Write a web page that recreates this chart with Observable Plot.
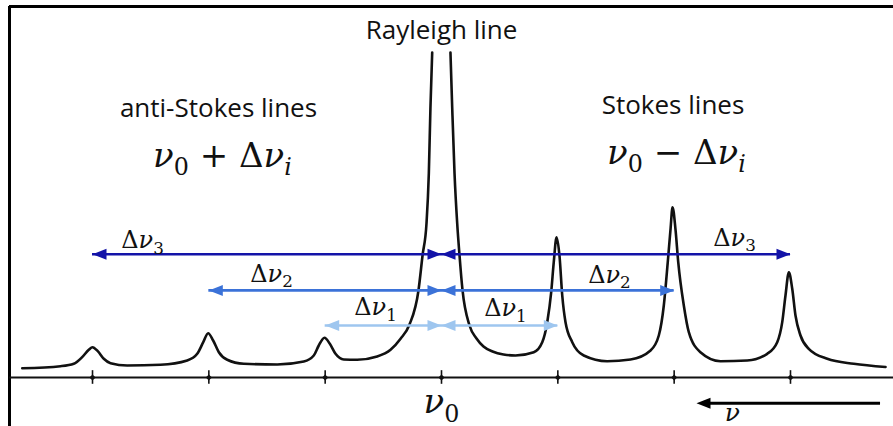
<!DOCTYPE html>
<html>
<head>
<meta charset="utf-8">
<script src="https://cdn.jsdelivr.net/npm/d3@7"></script>
<script src="https://cdn.jsdelivr.net/npm/@observablehq/plot@0.6"></script>
<style>
  html, body { margin: 0; padding: 0; background: #ffffff; }
  #chart svg { display: block; }
</style>
</head>
<body>
<div id="chart"></div>
<script>
// ---- Data ----
// Raman shift in units of the line spacing (anti-Stokes < 0 < Stokes), intensity in arbitrary units.
// null marks where the Rayleigh line leaves the frame (clipped).
const specShift = [
  -3.604, -3.275, -3.161, -3.089, -3.032, -3.000, -2.955, -2.903, -2.845, -2.702,
  -2.416, -2.186, -2.100, -2.048, -2.006, -1.963, -1.914, -1.842, -1.699, -1.412,
  -1.184, -1.098, -1.055, -1.006, -0.960, -0.911, -0.840, -0.725, -0.553, -0.438,
  -0.352, -0.275, -0.198, -0.163, -0.129, -0.109, -0.095, -0.080, 0.000,
  0.077, 0.092, 0.112, 0.135, 0.155, 0.180, 0.241, 0.301, 0.361, 0.439,
  0.533, 0.636, 0.793, 0.866, 0.909, 0.943, 0.965, 0.989, 1.014, 1.038,
  1.066, 1.124, 1.223, 1.424, 1.625, 1.797, 1.868, 1.911, 1.945, 1.969,
  1.986, 2.011, 2.035, 2.083, 2.126, 2.226, 2.398, 2.628, 2.800, 2.886,
  2.929, 2.957, 2.986, 3.015, 3.043, 3.086, 3.157, 3.316, 3.544, 3.817
];
const specIntensity = [
  2.86, 3.48, 4.22, 6.25, 8.52, 9.32, 8.09, 5.75, 4.40, 3.69,
  3.91, 5.23, 7.29, 10.86, 13.63, 11.38, 7.78, 5.45, 4.22, 4.00,
  4.92, 6.77, 9.85, 12.22, 10.37, 7.29, 5.54, 5.45, 6.46, 8.52,
  11.91, 16.31, 26.77, 37.54, 47.38, 62.77, 83.08, 100, null,
  100, 83.08, 62.77, 47.38, 37.54, 27.08, 16.0, 12.0, 9.54, 8.0,
  7.08, 6.77, 7.78, 10.86, 17.02, 26.25, 35.48, 43.17, 37.54, 25.23,
  17.02, 10.86, 6.77, 5.02, 5.54, 8.31, 12.92, 22.15, 35.48, 45.75,
  52.40, 45.75, 35.48, 22.15, 13.94, 7.78, 5.02, 5.23, 7.29, 10.86,
  17.02, 25.23, 32.40, 27.29, 19.08, 12.92, 8.83, 5.75, 4.22, 3.23
];
const lineTicks = [-3, -2, -1, 0, 1, 2, 3];
const shiftOrders = [1, 2, 3];
const shiftLabels = ["Δν_1", "Δν_2", "Δν_3"];
const headerLabels = ["Rayleigh line", "anti-Stokes lines", "Stokes lines"];
const formulaLabels = ["ν_0 + Δν_i", "ν_0 − Δν_i"];
const axisLabel = "ν_0";
const directionLabel = "ν";

// ---- Styling / layout ----
const orderColors = {1: "#9ec6ef", 2: "#3b72d8", 3: "#1313a8"};
const arrowLevel = {1: 16.0, 2: 26.8, 3: 37.9};
const labelPos = {
  1: [[-0.567, 19.1], [0.550, 18.8]],
  2: [[-1.461, 29.5], [1.444, 29.2]],
  3: [[-2.570, 39.7], [2.519, 40.6]]
};
const SANS = "'Open Sans', sans-serif";
const SERIF = "'DejaVu Serif', serif";

const spectrum = specShift.map((s, i) => ({shift: s, intensity: specIntensity[i]}));

const headRight = {draw(ctx) { ctx.moveTo(0, 0); ctx.lineTo(-14, -5.5); ctx.lineTo(-14, 5.5); ctx.closePath(); }};
const headLeft  = {draw(ctx) { ctx.moveTo(0, 0); ctx.lineTo(14, -5.5); ctx.lineTo(14, 5.5); ctx.closePath(); }};

const arrowMarks = [];
for (const k of shiftOrders) {
  const c = orderColors[k], lv = arrowLevel[k];
  arrowMarks.push(Plot.ruleY([lv], {x1: -k, x2: k, stroke: c, strokeWidth: 2.6}));
  arrowMarks.push(Plot.dot([-k], {x: d => d, y: () => lv, symbol: headLeft, r: 5, fill: c, stroke: "none"}));
  arrowMarks.push(Plot.dot([0], {x: () => 0, y: () => lv, symbol: headRight, r: 5, fill: c, stroke: "none"}));
  arrowMarks.push(Plot.dot([0], {x: () => 0, y: () => lv, symbol: headLeft, r: 5, fill: c, stroke: "none"}));
  arrowMarks.push(Plot.dot([k], {x: d => d, y: () => lv, symbol: headRight, r: 5, fill: c, stroke: "none"}));
  const lab = shiftLabels[k - 1];
  arrowMarks.push(Plot.text(labelPos[k], {x: d => d[0], y: d => d[1], text: () => lab,
    fontFamily: SERIF, fontSize: 24, textAnchor: "middle", lineAnchor: "bottom", fill: "#111"}));
}

const chart = Plot.plot({
  width: 893,
  height: 426,
  marginTop: 6,
  marginLeft: 9,
  marginRight: 0,
  marginBottom: 0,
  x: {domain: [-3.7136, 3.8855], axis: null},
  y: {domain: [-15.08, 114.15], axis: null},
  style: {background: "#ffffff", overflow: "visible"},
  marks: [
    // border (top and left)
    Plot.ruleY([114.15], {stroke: "#000", strokeWidth: 3}),
    Plot.ruleX([-3.7136], {stroke: "#000", strokeWidth: 3}),
    // frequency axis with line positions
    Plot.ruleY([0], {stroke: "#111", strokeWidth: 2.2}),
    Plot.ruleX(lineTicks, {x: d => d, y1: -2.1, y2: 2.1, stroke: "#111", strokeWidth: 1.6}),
    Plot.dot(lineTicks, {x: d => d, y: () => 0, symbol: "diamond2", r: 2.8, fill: "#111", stroke: "none"}),
    // spectrum
    Plot.line(spectrum, {x: "shift", y: "intensity", curve: "monotone-x", stroke: "#111", strokeWidth: 2.6}),
    ...arrowMarks,
    // headers
    Plot.text([headerLabels[0]], {x: () => 0, y: () => 104.0, text: d => d, fontFamily: SANS, fontSize: 26, textAnchor: "middle", lineAnchor: "bottom", fill: "#111"}),
    Plot.text([headerLabels[1]], {x: () => -1.917, y: () => 80.0, text: d => d, fontFamily: SANS, fontSize: 26, textAnchor: "middle", lineAnchor: "bottom", fill: "#111"}),
    Plot.text([headerLabels[2]], {x: () => 1.99, y: () => 81.2, text: d => d, fontFamily: SANS, fontSize: 26, textAnchor: "middle", lineAnchor: "bottom", fill: "#111"}),
    // formulas
    Plot.text([formulaLabels[0]], {x: () => -1.883, y: () => 64.9, text: d => d, fontFamily: SERIF, fontSize: 34, textAnchor: "middle", lineAnchor: "bottom", fill: "#111"}),
    Plot.text([formulaLabels[1]], {x: () => 2.02, y: () => 65.8, text: d => d, fontFamily: SERIF, fontSize: 34, textAnchor: "middle", lineAnchor: "bottom", fill: "#111"}),
    // axis label
    Plot.text([axisLabel], {x: () => 0, y: () => -11.08, text: d => d, fontFamily: SERIF, fontSize: 34, textAnchor: "middle", lineAnchor: "bottom", fill: "#111"}),
    // direction arrow
    Plot.ruleY([-7.9], {x1: 2.30, x2: 3.774, stroke: "#000", strokeWidth: 3}),
    Plot.dot([2.192], {x: d => d, y: () => -7.9, symbol: headLeft, r: 5, fill: "#000", stroke: "none"}),
    Plot.text([directionLabel], {x: () => 2.50, y: () => -13.3, text: d => d, fontFamily: SERIF, fontSize: 25, fontStyle: "italic", textAnchor: "middle", lineAnchor: "bottom", fill: "#111"})
  ]
});

document.getElementById("chart").appendChild(chart);

// Render "_x" as a subscript and Greek/Latin letters in italic (math style), keeping real text.
const NS = "http://www.w3.org/2000/svg";
chart.querySelectorAll("text").forEach(t => {
  const s = t.textContent;
  if (!s.includes("_")) return;
  const fs = parseFloat(getComputedStyle(t).fontSize) || 20;
  const shift = fs * 0.24;
  while (t.firstChild) t.removeChild(t.firstChild);
  t.setAttribute("xml:space", "preserve");
  t.style.whiteSpace = "pre";
  let cur = 0;
  for (let k = 0; k < s.length; k++) {
    let ch = s[k], sub = false;
    if (ch === "_") { sub = true; ch = s[++k]; }
    const ts = document.createElementNS(NS, "tspan");
    ts.textContent = ch;
    const target = sub ? shift : 0;
    if (target !== cur) { ts.setAttribute("dy", (target - cur).toFixed(2)); cur = target; }
    if (sub) ts.setAttribute("font-size", (fs * 0.7).toFixed(1));
    if (/[a-zν]/.test(ch)) ts.setAttribute("font-style", "italic");
    t.appendChild(ts);
  }
});
</script>
</body>
</html>
